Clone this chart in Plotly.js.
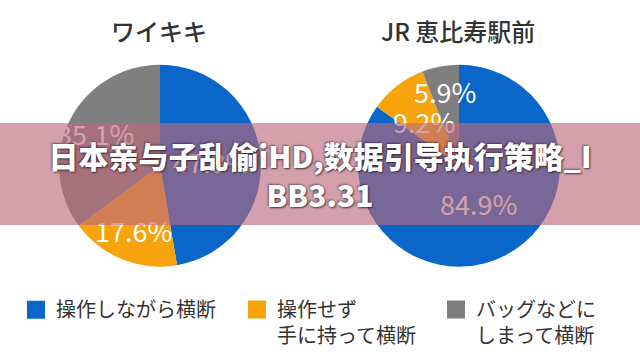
<!DOCTYPE html>
<html>
<head>
<meta charset="utf-8">
<script src="https://cdn.plot.ly/plotly-3.0.1.min.js"></script>
<style>html,body{margin:0;padding:0;background:#fff;}#chart{width:640px;height:355px;}</style>
</head>
<body>
<div id="chart"></div>
<script>
// ---- data ----
const categories = ['操作しながら横断', '操作せず<br>手に持って横断', 'バッグなどに<br>しまって横断'];
const waikikiValues = [47.3, 17.6, 35.1];
const ebisuValues = [84.9, 9.2, 5.9];
const pieTitles = ['ワイキキ', 'JR 恵比寿駅前'];
const bannerLines = ['日本亲与子乱偷iHD,数据引导执行策略_I', 'BB3.31'];

// ---- style / layout constants ----
const W = 640, H = 355;
const colors = ['#0a66c8', '#f7a30c', '#7f7f7f'];
const pies = [
  {cx: 160, cy: 169, r: 103, labelR: [0.5, 0.69, 0.7]},
  {cx: 459, cy: 169, r: 103, labelR: [0.42, 0.55, 0.75]}
];
const jp = '"Noto Sans CJK JP", "Noto Sans", sans-serif';
const sc = '"Noto Sans CJK SC", "Noto Sans", sans-serif';

const seriesValues = [waikikiValues, ebisuValues];
const traces = [];
const annotations = [];

seriesValues.forEach((vals, i) => {
  const p = pies[i];
  traces.push({
    type: 'pie',
    labels: categories,
    values: vals,
    sort: false,
    direction: 'clockwise',
    rotation: 0,
    textinfo: 'none',
    hoverinfo: 'skip',
    showlegend: false,
    marker: {colors: colors, line: {width: 0}},
    domain: {x: [(p.cx - p.r) / W, (p.cx + p.r) / W], y: [1 - (p.cy + p.r) / H, 1 - (p.cy - p.r) / H]}
  });
  // titles
  annotations.push({
    text: pieTitles[i], xref: 'paper', yref: 'paper', x: (p.cx - 1) / W, y: 1 - 31 / H,
    xanchor: 'center', yanchor: 'middle', showarrow: false,
    font: {family: jp, size: 24, color: '#333', weight: 500}
  });
  // slice labels, placed on each slice's bisector
  const total = vals.reduce((a, b) => a + b, 0);
  let cum = 0;
  vals.forEach((v, k) => {
    const theta = (cum + v / 2) / total * 2 * Math.PI;
    cum += v;
    const rr = p.labelR[k] * p.r;
    const x = p.cx + rr * Math.sin(theta);
    const y = p.cy - rr * Math.cos(theta);
    annotations.push({
      text: v.toFixed(1) + '%', xref: 'paper', yref: 'paper', x: x / W, y: 1 - y / H,
      xanchor: 'center', yanchor: 'middle', showarrow: false,
      font: {family: jp, size: 27, color: '#ffffff'}
    });
  });
});

// banner overlay (drawn after labels so it tints them)
annotations.push({
  text: bannerLines.join('<br>'), xref: 'paper', yref: 'paper', x: 0.5, y: 1 - 177 / H,
  xanchor: 'center', yanchor: 'middle', showarrow: false,
  width: W, height: 102, borderpad: 0, borderwidth: 0,
  bgcolor: 'rgba(187,105,124,0.63)',
  font: {family: sc, size: 30, color: '#ffffff', weight: 900,
         shadow: '1px 1px 2px rgba(40,20,30,0.8), -1px -1px 2px rgba(40,20,30,0.5)'}
});

// legend entries (dummy traces, one legend each)
const legendNames = ['legend', 'legend2', 'legend3'];
const legendX = [16, 237, 436];
categories.forEach((c, k) => {
  traces.push({
    type: 'scatter', x: [null], y: [null], mode: 'markers', name: c,
    legend: legendNames[k], hoverinfo: 'skip',
    marker: {symbol: 'square', size: 16, color: colors[k], line: {width: 2, color: colors[k]}}
  });
});

const layout = {
  width: W, height: H,
  margin: {l: 0, r: 0, t: 0, b: 0},
  paper_bgcolor: '#ffffff', plot_bgcolor: '#ffffff',
  xaxis: {visible: false, range: [0, 1], fixedrange: true},
  yaxis: {visible: false, range: [0, 1], fixedrange: true},
  annotations: annotations,
  hovermode: false
};
legendNames.forEach((ln, k) => {
  layout[ln] = {
    x: legendX[k] / W, y: 1 - 296 / H, xanchor: 'left', yanchor: 'top',
    orientation: 'v', valign: 'top', bgcolor: 'rgba(0,0,0,0)', borderwidth: 0,
    font: {family: jp, size: 20, color: '#333'},
    itemclick: false, itemdoubleclick: false
  };
});

Plotly.newPlot('chart', traces, layout, {displayModeBar: false, staticPlot: true});
</script>
</body>
</html>
